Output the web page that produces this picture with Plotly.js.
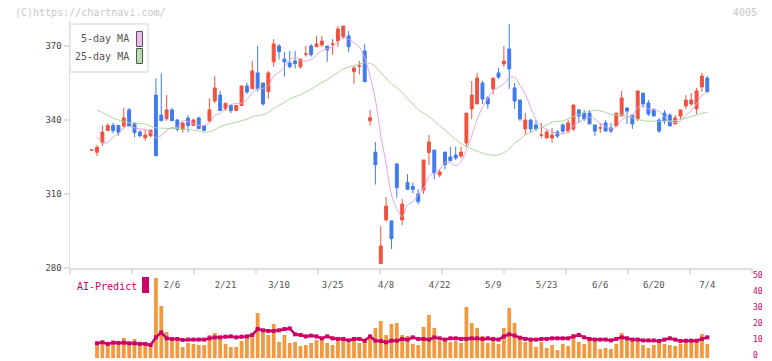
<!DOCTYPE html>
<html><head><meta charset="utf-8">
<script src="https://cdn.plot.ly/plotly-3.0.1.min.js"></script>
<style>html,body{margin:0;padding:0;background:#fff;}#chart{width:772px;height:361px;}</style>
</head><body><div id="chart"></div>
<script>
const dates = ['1/16','1/17','1/20','1/21','1/22','1/23','1/24','1/27','1/28','1/29','1/30','1/31',
'2/3','2/4','2/5','2/6','2/7','2/10','2/12','2/13','2/14','2/17','2/18','2/19','2/20','2/21','2/25','2/26','2/27','2/28',
'3/3','3/4','3/5','3/6','3/7','3/10','3/11','3/12','3/13','3/14','3/17','3/18','3/19','3/21','3/24','3/25','3/26','3/27','3/28','3/31',
'4/1','4/2','4/3','4/4','4/7','4/8','4/9','4/10','4/11','4/14','4/15','4/16','4/17','4/18','4/21','4/22','4/23','4/24','4/25','4/28','4/30',
'5/1','5/2','5/7','5/8','5/9','5/12','5/13','5/14','5/15','5/16','5/19','5/20','5/21','5/22','5/23','5/26','5/27','5/28','5/29','5/30',
'6/2','6/3','6/4','6/5','6/6','6/9','6/10','6/11','6/12','6/13','6/16','6/17','6/18','6/19','6/20','6/23','6/24','6/25','6/26','6/27','6/30',
'7/1','7/2','7/3','7/4'];
const dateLabels = ['2/6','2/21','3/10','3/25','4/8','4/22','5/9','5/23','6/6','6/20','7/4'];
const priceTicks = [280,310,340,370];
const volumeTicks = [0,10,20,30,40,50];

const open = [327.8,326.9,330.8,335.7,337.8,337.8,337.6,344.1,338.8,335.1,332.8,333.6,350.1,342.0,340.5,344.1,340.0,336.2,340.8,337.8,
340.8,337.8,339.7,347.7,350.1,344.6,345.9,343.8,345.9,353.8,352.7,359.1,355.0,351.5,363.6,370.0,364.7,363.1,363.9,361.6,
366.7,370.0,369.7,370.4,370.0,370.7,372.0,373.8,374.1,359.6,361.8,368.0,339.7,327.0,281.8,299.5,299.1,322.2,299.5,314.7,
313.0,310.0,311.6,326.8,327.8,317.7,327.0,325.0,325.8,325.4,330.7,344.5,346.5,355.0,348.9,352.6,359.1,362.7,368.8,353.0,
348.1,336.4,340.0,338.0,333.85,332.7,332.7,335.1,338.0,335.5,336.4,344.1,342.8,342.8,338.0,336.75,338.8,336.8,337.6,341.6,
344.9,342.0,340.4,350.9,346.9,344.1,340.0,342.8,342.0,338.4,341.6,345.7,346.5,344.5,353.4,357.0];
const high = [327.9,329.9,337.8,338.6,338.8,337.8,344.9,344.9,338.8,335.9,335.9,335.9,356.9,358.9,350.1,344.9,340.5,339.3,341.9,340.5,
341.4,337.8,348.8,357.8,351.8,346.8,345.9,345.9,353.8,355.1,363.9,370.0,355.0,359.9,372.8,370.8,367.6,368.0,368.0,364.7,
370.0,370.8,374.1,374.1,370.0,372.8,378.1,378.1,376.1,361.9,363.9,370.8,344.1,331.1,297.0,308.8,299.1,322.2,308.0,318.1,
314.7,311.9,323.8,333.9,327.8,320.1,327.0,329.2,329.2,329.1,342.8,355.8,359.1,355.8,349.7,357.0,361.1,370.0,378.9,355.0,
348.1,342.8,340.4,340.0,338.8,335.9,336.8,335.9,338.8,340.0,346.1,344.5,344.1,344.1,338.0,338.8,340.0,338.8,342.8,351.8,
344.9,342.0,351.8,350.9,348.1,344.9,340.8,344.1,342.8,342.0,344.1,350.1,350.9,353.0,359.1,357.8];
const low = [327.7,325.4,329.5,335.7,334.6,333.6,336.5,337.6,333.0,333.0,331.6,333.0,325.5,339.7,339.7,339.7,335.4,334.9,334.9,337.8,
336.5,335.7,338.9,346.8,343.8,343.8,342.7,343.8,345.9,350.5,352.7,351.5,345.8,348.6,361.6,364.5,357.6,360.9,360.9,360.8,
365.7,365.7,369.7,369.7,363.6,366.5,369.7,372.8,367.6,354.7,358.5,355.5,337.6,313.8,281.8,298.8,287.7,308.5,297.4,311.9,
310.3,305.8,310.0,321.8,315.9,316.8,320.0,323.5,323.8,324.6,329.1,340.4,346.5,346.5,344.5,350.5,356.6,361.5,352.6,344.5,
339.6,333.9,334.7,335.5,332.7,332.7,330.7,332.7,334.6,334.6,335.5,338.8,339.6,338.4,333.5,334.7,335.5,334.7,337.6,341.6,
338.4,336.4,339.6,344.9,341.6,341.6,334.7,338.4,337.6,338.4,340.4,344.5,345.7,342.4,351.4,351.4];
const close = [327.85,328.9,335.1,337.8,335.7,334.9,340.8,337.6,334.9,333.6,333.9,335.9,325.5,339.7,344.1,339.7,336.2,338.8,337.8,340.0,
336.5,335.7,344.1,353.0,343.8,346.8,343.8,345.9,353.8,351.4,359.9,352.7,346.5,359.1,370.8,367.7,363.6,361.6,362.8,364.7,
366.8,366.5,370.8,372.0,368.4,370.8,376.9,378.1,369.7,361.1,361.9,355.5,340.9,321.9,288.9,305.1,291.9,312.6,305.9,311.9,
311.9,306.9,323.8,331.1,318.5,318.9,321.9,323.5,324.6,327.0,342.8,350.1,357.0,348.5,346.5,357.0,357.4,363.9,360.7,347.7,
340.4,340.0,336.4,336.4,333.9,335.1,333.9,333.5,335.5,338.8,346.1,341.6,340.4,338.4,335.5,336.8,335.5,335.5,342.8,348.9,
343.6,338.4,351.8,346.5,342.4,341.6,335.5,339.6,337.6,340.8,344.1,348.1,348.1,351.8,357.8,351.4];
const ma5 = [null,333.2,330.8,331.0,333.06,334.48,336.86,337.36,336.78,336.36,
336.16,335.18,332.76,333.72,335.82,336.98,337.04,339.7,339.32,338.5,
337.86,337.76,338.82,341.86,342.62,344.68,346.3,346.66,346.82,348.34,
350.96,352.74,352.86,353.92,357.8,359.36,361.54,364.56,365.3,364.08,
363.9,364.48,366.32,368.16,368.9,369.7,371.78,373.24,372.78,371.32,
369.54,365.26,357.82,348.26,333.82,322.46,309.74,304.08,300.88,305.48,
306.84,309.84,312.08,317.12,318.44,319.84,322.84,322.78,321.48,323.18,
327.96,333.6,340.3,345.08,348.98,351.82,353.28,354.66,357.1,357.34,
354.02,350.54,345.04,340.18,337.42,336.36,335.14,334.56,334.38,335.36,
337.56,339.1,340.48,341.06,340.4,338.54,337.32,336.34,337.22,339.9,
341.26,341.84,345.1,345.84,344.54,344.14,343.56,341.12,339.34,339.02,
339.52,342.04,343.74,346.58,349.98,351.44];
const ma25 = [null,344.0,343.0,341.9,340.8,340.0,339.3,338.8,338.6,338.5,
338.4,337.5,336.8,336.7,336.6,336.6,336.5,336.3,336.1,335.9,
335.6,335.0,335.2,336.0,337.27,338.03,338.63,339.06,339.70,340.33,
341.33,341.80,342.16,343.13,344.62,345.97,347.08,348.52,349.44,350.27,
351.35,352.56,353.84,355.21,356.35,357.72,359.37,360.73,361.40,362.09,
362.69,363.16,362.96,361.68,359.18,356.99,354.56,353.20,351.08,348.72,
346.49,344.22,342.71,341.44,339.59,337.68,335.89,334.00,332.10,330.45,
329.33,328.26,327.41,326.56,325.98,325.78,325.86,326.78,328.33,330.68,
332.10,334.02,334.97,336.19,337.07,338.00,339.08,339.47,339.64,340.46,
341.54,342.33,343.01,343.56,343.90,343.66,343.08,342.22,341.99,342.08,
341.55,340.79,340.30,339.74,339.52,339.57,339.39,339.52,339.57,339.84,
340.20,340.77,341.36,342.01,342.77,342.98];
const volume = [null,8.1,9.2,7.7,9.2,8.1,12.5,8.1,11.9,7.7,
8.1,7.7,50,32.5,16.3,11.9,11.9,6.9,9.4,8.8,
8.1,8.1,14.4,15.6,12.9,8.8,6.9,6.9,10.6,14.4,
13.1,28.1,18.1,14.4,21.3,10.0,14.4,9.4,10.0,7.5,
8.1,9.4,11.3,11.9,9.4,8.1,11.9,11.9,9.4,12.5,
9.4,11.3,13.1,18.8,23.1,14.4,21.3,21.9,14.4,13.8,
8.8,8.1,19.4,26.9,18.8,10.6,11.9,10.0,10.6,9.4,
31.9,21.9,18.8,13.8,9.4,11.9,8.8,18.8,31.3,21.9,
11.9,10.0,10.6,6.9,10.0,6.3,8.1,5.0,8.8,7.5,
15.0,10.0,8.8,11.3,10.6,5.6,6.3,5.6,8.8,15.6,
12.5,12.5,12.5,8.1,6.3,8.1,11.3,8.8,8.1,7.5,
8.8,10.0,10.0,11.3,15.0,8.8];
const aiPredict = [null,9.2,9.8,8.8,9.6,9.4,9.6,9.2,9.2,8.8,
8.8,8.1,12.9,16.0,12.3,11.9,11.9,11.3,11.5,11.5,
11.5,11.5,12.3,12.9,12.9,13.3,13.5,12.9,13.3,13.5,
14.4,18.1,17.3,16.9,16.9,17.3,18.1,18.5,14.8,14.4,
13.5,14.0,13.5,12.3,13.5,12.3,11.9,11.9,11.0,11.9,
11.9,10.8,13.5,10.8,10.6,9.8,10.8,10.8,11.9,11.5,
12.9,11.9,11.9,11.5,12.9,12.3,11.5,12.3,12.3,11.9,
11.9,12.3,12.3,11.9,12.3,11.9,11.5,13.5,14.8,14.0,
12.7,11.9,11.5,11.5,11.9,11.9,12.3,12.3,12.3,12.3,
13.5,14.4,12.9,11.9,11.5,11.5,11.5,11.0,11.9,12.9,
12.3,11.5,11.5,11.0,11.0,11.0,10.6,11.5,12.3,11.5,
10.6,10.8,10.8,10.8,11.9,12.9];

const W = 772, H = 361, ML = 70, MR = 20;
const px = x => (x - ML) / (W - ML - MR);
const py = y => 1 - y / H;
const mono = 'DejaVu Sans Mono, monospace';
const RED = '#f0523f', BLUE = '#3f7bef', PINK = '#dca6dc', GREEN = '#aad69c';
const ORANGE = '#f2983f', CRIMSON = '#cc0066';

const traces = [
  {type:'bar', x:dates, y:volume, xaxis:'x', yaxis:'y2', marker:{color:ORANGE, line:{width:0}},
   hoverinfo:'skip', showlegend:false},
  {type:'scatter', mode:'lines+markers', x:dates, y:aiPredict, xaxis:'x', yaxis:'y2',
   line:{color:CRIMSON, width:2.5}, marker:{color:CRIMSON, size:4, symbol:'square'},
   hoverinfo:'skip', showlegend:false},
  {type:'candlestick', x:dates, open:open, high:high, low:low, close:close, xaxis:'x', yaxis:'y',
   increasing:{line:{color:RED, width:1}, fillcolor:RED},
   decreasing:{line:{color:BLUE, width:1}, fillcolor:BLUE},
   whiskerwidth:0, hoverinfo:'skip', showlegend:false},
  {type:'scatter', mode:'lines', x:dates, y:ma25, xaxis:'x', yaxis:'y',
   line:{color:GREEN, width:1, shape:'spline'}, hoverinfo:'skip', showlegend:false},
  {type:'scatter', mode:'lines', x:dates, y:ma5, xaxis:'x', yaxis:'y',
   line:{color:PINK, width:1, shape:'spline'}, hoverinfo:'skip', showlegend:false},
  {type:'scatter', mode:'markers', x:[0], y:[null], xaxis:'x3', yaxis:'y',
   hoverinfo:'skip', showlegend:false}
];

const layout = {
  width:W, height:H, margin:{l:ML, r:MR, t:0, b:0},
  paper_bgcolor:'#ffffff', plot_bgcolor:'#ffffff',
  showlegend:false, bargap:0.3, boxgap:0.22,
  font:{family:mono, size:9, color:'#555'},
  xaxis:{type:'category', range:[-4.05,123.35], domain:[0,1], anchor:'y',
    tickmode:'array', tickvals:dateLabels, ticktext:dateLabels,
    ticks:'outside', ticklen:8, tickcolor:'rgba(0,0,0,0)',
    showline:true, linecolor:'#dedede', linewidth:1.5, showgrid:false, zeroline:false,
    tickfont:{family:mono, size:9, color:'#555'}, rangeslider:{visible:false}, fixedrange:true},
  xaxis3:{overlaying:'x', anchor:'y', range:[0,11], tickmode:'linear', tick0:0, dtick:1,
    ticks:'outside', ticklen:5, tickcolor:'#dedede', tickwidth:1.5, showticklabels:false,
    showline:false, showgrid:false, zeroline:false, fixedrange:true},
  yaxis:{domain:[py(268), py(268 - 100*74/30)], range:[280,380], anchor:'x',
    tickmode:'array', tickvals:priceTicks, ticks:'outside', ticklen:5, tickcolor:'#dedede', tickwidth:1.5,
    showline:true, linecolor:'#dedede', linewidth:1.5, showgrid:false, zeroline:false,
    tickfont:{family:mono, size:9, color:'#444'}, fixedrange:true},
  yaxis2:{domain:[py(358), py(278)], range:[0,50], anchor:'x', side:'right',
    tickmode:'array', tickvals:volumeTicks, ticks:'', showline:false, showgrid:false, zeroline:false,
    ticklabeloverflow:'allow', ticklabelshift:-3,
    tickfont:{family:mono, size:8, color:CRIMSON}, fixedrange:true},
  shapes:[
    {type:'rect', xref:'paper', yref:'paper', x0:px(70), x1:px(148), y0:py(72), y1:py(24),
     line:{color:'#e2e2e2', width:1.5}, fillcolor:'#ffffff', layer:'above'},
    {type:'rect', xref:'paper', yref:'paper', x0:px(136.5), x1:px(142.5), y0:py(46.5), y1:py(31.5),
     line:{color:'#555', width:1}, fillcolor:'#ecbcec', layer:'above'},
    {type:'rect', xref:'paper', yref:'paper', x0:px(136.5), x1:px(142.5), y0:py(63.5), y1:py(48.5),
     line:{color:'#555', width:1}, fillcolor:'#bcdcb0', layer:'above'},
    {type:'rect', xref:'paper', yref:'paper', x0:px(142), x1:px(149), y0:py(293), y1:py(277),
     line:{width:0}, fillcolor:CRIMSON, layer:'above'}
  ],
  annotations:[
    {text:'(C)https://chartnavi.com/', xref:'paper', yref:'paper', x:px(13), y:py(12.5),
     xanchor:'left', yanchor:'middle', showarrow:false, font:{family:mono, size:10, color:'#c8c8c8'}},
    {text:'4005', xref:'paper', yref:'paper', x:px(759), y:py(12.5),
     xanchor:'right', yanchor:'middle', showarrow:false, font:{family:mono, size:10, color:'#c8c8c8'}},
    {text:'5-day MA', xref:'paper', yref:'paper', x:px(131), y:py(39),
     xanchor:'right', yanchor:'middle', showarrow:false, font:{family:mono, size:10, color:'#555'}},
    {text:'25-day MA', xref:'paper', yref:'paper', x:px(131), y:py(56.5),
     xanchor:'right', yanchor:'middle', showarrow:false, font:{family:mono, size:10, color:'#555'}},
    {text:'AI-Predict', xref:'paper', yref:'paper', x:px(74.5), y:py(286),
     xanchor:'left', yanchor:'middle', showarrow:false, font:{family:mono, size:10, color:CRIMSON}}
  ]
};

Plotly.newPlot('chart', traces, layout, {staticPlot:true, displayModeBar:false});
</script>
</body></html>
